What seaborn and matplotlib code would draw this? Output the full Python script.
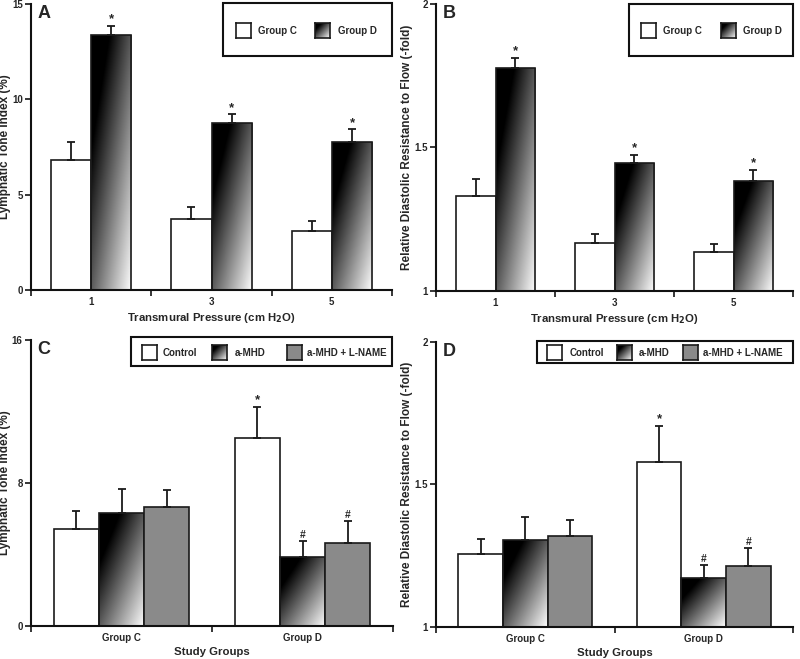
import numpy as np
import pandas as pd
import matplotlib
matplotlib.use("Agg")
import matplotlib.pyplot as plt
import seaborn as sns
from matplotlib.patches import Rectangle
from matplotlib.ticker import FixedLocator, NullFormatter, FixedFormatter

# ---------------- data ----------------
pressures = ["1", "3", "5"]
groups_ab = ["Group C", "Group D"]

tone_C = [6.82, 3.74, 3.07]
tone_C_sem = [0.96, 0.60, 0.56]
tone_D = [13.39, 8.77, 7.74]
tone_D_sem = [0.46, 0.44, 0.68]
tone_D_sig = ["*", "*", "*"]

res_C = [1.331, 1.167, 1.135]
res_C_sem = [0.059, 0.030, 0.027]
res_D = [1.776, 1.444, 1.383]
res_D_sem = [0.037, 0.029, 0.039]
res_D_sig = ["*", "*", "*"]

study_groups = ["Group C", "Group D"]
treatments = ["Control", "a-MHD", "a-MHD + L-NAME"]

toneS_control = [5.43, 10.49]
toneS_control_sem = [0.99, 1.76]
toneS_mhd = [6.31, 3.85]
toneS_mhd_sem = [1.34, 0.91]
toneS_lname = [6.63, 4.61]
toneS_lname_sem = [0.97, 1.25]
toneS_sig = {"Control": ["", "*"], "a-MHD": ["", "#"], "a-MHD + L-NAME": ["", "#"]}

resS_control = [1.255, 1.577]
resS_control_sem = [0.054, 0.128]
resS_mhd = [1.305, 1.172]
resS_mhd_sem = [0.079, 0.046]
resS_lname = [1.319, 1.213]
resS_lname_sem = [0.056, 0.063]
resS_sig = {"Control": ["", "*"], "a-MHD": ["", "#"], "a-MHD + L-NAME": ["", "#"]}

# ---------------- style ----------------
sns.set_style("ticks")
plt.rcParams["font.family"] = ["Liberation Sans", "DejaVu Sans"]
plt.rcParams["font.weight"] = "bold"
plt.rcParams["axes.labelweight"] = "bold"

W, H = 800, 659
fig = plt.figure(figsize=(W / 100, H / 100), dpi=100)

EDGE = "#1a1a1a"
GRAY = "#8a8a8a"


def rect(l, t, r, b):
    return [l / W, 1 - b / H, (r - l) / W, (b - t) / H]


def grad_img(n=120):
    xf = np.linspace(0, 1, n)[None, :]
    yd = np.linspace(0, 1, n)[:, None]
    v = (xf + yd - 0.45) / 1.55
    return np.clip(v, 0, 1)


GRAD = grad_img()


def fill_gradient(ax, bar):
    y0 = max(bar.get_y(), ax.get_ylim()[0])
    y1 = bar.get_y() + bar.get_height()
    x0 = bar.get_x()
    x1 = x0 + bar.get_width()
    bar.set_facecolor("none")
    im = ax.imshow(GRAD, cmap="gray", vmin=0, vmax=1, extent=[x0, x1, y0, y1],
                   aspect="auto", interpolation="bilinear", zorder=bar.get_zorder() - 0.1)
    im.set_clip_path(bar)


def panel(ax_rect_px, df, cats, hues, palette, grad_hues, sems, sigs, width,
          ylim, yticks, yticklabels, xlabel, ylabel, letter, ylab_x_px):
    l, t, r, b = ax_rect_px
    ax = fig.add_axes(rect(*ax_rect_px))
    sns.barplot(data=df, x="cat", y="val", hue="hue", order=cats, hue_order=hues,
                palette=palette, width=width, saturation=1, errorbar=None,
                edgecolor=EDGE, linewidth=1.2, legend=False, ax=ax, zorder=2)
    ax.set_ylim(*ylim)
    ax.set_xlim(-0.5, len(cats) - 0.5)
    for h, cont in zip(hues, ax.containers):
        xs = [bb.get_x() + bb.get_width() / 2 for bb in cont]
        ys = [bb.get_y() + bb.get_height() for bb in cont]
        err = sems[h]
        ax.errorbar(xs, ys, yerr=[np.zeros(len(err)), err], fmt="none", ecolor=EDGE,
                    elinewidth=1.3, capsize=2.6, capthick=1.3, zorder=3)
        for x, y, e, s in zip(xs, ys, err, sigs.get(h, [""] * len(xs))):
            if s:
                ax.annotate(s, (x, y + e), xytext=(0, 0.5), textcoords="offset points",
                            ha="center", va="bottom", fontsize=9.5 if s == "*" else 7.5,
                            fontweight="bold")
        if h in grad_hues:
            for bb in cont:
                fill_gradient(ax, bb)
    ax.set_ylim(*ylim)
    ax.set_xlim(-0.5, len(cats) - 0.5)
    sns.despine(ax=ax)
    for sp in ["left", "bottom"]:
        ax.spines[sp].set_linewidth(1.5)
        ax.spines[sp].set_color("#111111")
    ax.xaxis.set_major_locator(FixedLocator(np.arange(-0.5, len(cats), 1.0)))
    ax.xaxis.set_major_formatter(NullFormatter())
    ax.xaxis.set_minor_locator(FixedLocator(np.arange(len(cats))))
    ax.xaxis.set_minor_formatter(FixedFormatter(cats))
    ax.tick_params(axis="x", which="major", length=4, width=1.3, direction="out")
    ax.tick_params(axis="x", which="minor", length=0, pad=5, labelsize=7)
    ax.set_yticks(yticks)
    ax.set_yticklabels(yticklabels)
    ax.tick_params(axis="y", length=4, width=1.3, direction="out", pad=2, labelsize=7)
    for lab in ax.get_xticklabels(minor=True) + ax.get_yticklabels():
        lab.set_fontweight("bold")
    ax.set_xlabel(xlabel, fontsize=8.2, fontweight="bold", labelpad=3)
    ax.set_ylabel(ylabel, fontsize=8.5, fontweight="bold")
    ax.yaxis.set_label_coords((ylab_x_px - l) / (r - l), 0.5)
    ax.text(0.018, 0.995, letter, transform=ax.transAxes, ha="left", va="top",
            fontsize=13, fontweight="bold")
    return ax


def legend_box(box, items):
    l, t, r, b = box
    fig.add_artist(Rectangle((l / W, 1 - b / H), (r - l) / W, (b - t) / H,
                             transform=fig.transFigure, facecolor="white",
                             edgecolor="#111111", linewidth=1.5, zorder=5))
    for (sx, sy, kind, label, tx) in items:
        sa = fig.add_axes(rect(sx, sy, sx + 15, sy + 15), zorder=6)
        if kind == "grad":
            sa.imshow(GRAD, cmap="gray", vmin=0, vmax=1, aspect="auto",
                      interpolation="bilinear")
        else:
            sa.set_facecolor(kind)
        sa.set_xticks([])
        sa.set_yticks([])
        for sp in sa.spines.values():
            sp.set_visible(True)
            sp.set_linewidth(1.2)
            sp.set_color(EDGE)
        fig.text(tx / W, 1 - (sy + 7.5) / H, label, ha="left", va="center",
                 fontsize=7, fontweight="bold", zorder=7)


# ---------------- Panel A ----------------
dfA = pd.DataFrame({
    "cat": pressures * 2,
    "hue": [groups_ab[0]] * 3 + [groups_ab[1]] * 3,
    "val": tone_C + tone_D,
})
axA = panel((31, 4, 392, 290), dfA, pressures, groups_ab,
            {"Group C": "white", "Group D": "white"}, ["Group D"],
            {"Group C": tone_C_sem, "Group D": tone_D_sem},
            {"Group D": tone_D_sig}, 0.67,
            (0, 15), [0, 5, 10, 15], ["0", "5", "10", "15"],
            "Transmural Pressure (cm H$_\\mathbf{2}$O)", "Lymphatic Tone Index (%)", "A", 11)
legend_box((223, 3, 392, 56), [
    (236, 23, "white", "Group C", 258),
    (315, 23, "grad", "Group D", 338),
])

# ---------------- Panel B ----------------
dfB = pd.DataFrame({
    "cat": pressures * 2,
    "hue": [groups_ab[0]] * 3 + [groups_ab[1]] * 3,
    "val": res_C + res_D,
})
axB = panel((436, 4, 793, 290.7), dfB, pressures, groups_ab,
            {"Group C": "white", "Group D": "white"}, ["Group D"],
            {"Group C": res_C_sem, "Group D": res_D_sem},
            {"Group D": res_D_sig}, 0.67,
            (1, 2), [1, 1.5, 2], ["1", "1.5", "2"],
            "Transmural Pressure (cm H$_\\mathbf{2}$O)",
            "Relative Diastolic Resistance to Flow (-fold)", "B", 413)
legend_box((629, 4, 793, 56), [
    (641, 23, "white", "Group C", 663),
    (721, 23, "grad", "Group D", 743),
])

# ---------------- Panel C ----------------
dfC = pd.DataFrame({
    "cat": study_groups * 3,
    "hue": [treatments[0]] * 2 + [treatments[1]] * 2 + [treatments[2]] * 2,
    "val": toneS_control + toneS_mhd + toneS_lname,
})
axC = panel((31, 340, 393, 625.7), dfC, study_groups, treatments,
            {"Control": "white", "a-MHD": "white", "a-MHD + L-NAME": GRAY}, ["a-MHD"],
            {"Control": toneS_control_sem, "a-MHD": toneS_mhd_sem,
             "a-MHD + L-NAME": toneS_lname_sem},
            toneS_sig, 0.75,
            (0, 16), [0, 8, 16], ["0", "8", "16"],
            "Study Groups", "Lymphatic Tone Index (%)", "C", 11)
legend_box((131, 337, 392, 366), [
    (142, 345, "white", "Control", 163),
    (212, 345, "grad", "a-MHD", 235),
    (287, 345, GRAY, "a-MHD + L-NAME", 307),
])

# ---------------- Panel D ----------------
dfD = pd.DataFrame({
    "cat": study_groups * 3,
    "hue": [treatments[0]] * 2 + [treatments[1]] * 2 + [treatments[2]] * 2,
    "val": resS_control + resS_mhd + resS_lname,
})
axD = panel((436, 341.7, 793, 626.7), dfD, study_groups, treatments,
            {"Control": "white", "a-MHD": "white", "a-MHD + L-NAME": GRAY}, ["a-MHD"],
            {"Control": resS_control_sem, "a-MHD": resS_mhd_sem,
             "a-MHD + L-NAME": resS_lname_sem},
            resS_sig, 0.75,
            (1, 2), [1, 1.5, 2], ["1", "1.5", "2"],
            "Study Groups", "Relative Diastolic Resistance to Flow (-fold)", "D", 413)
legend_box((537, 341, 793, 363), [
    (547, 345, "white", "Control", 570),
    (617, 345, "grad", "a-MHD", 639),
    (683, 345, GRAY, "a-MHD + L-NAME", 703),
])

fig.savefig("out.png", dpi=100)
